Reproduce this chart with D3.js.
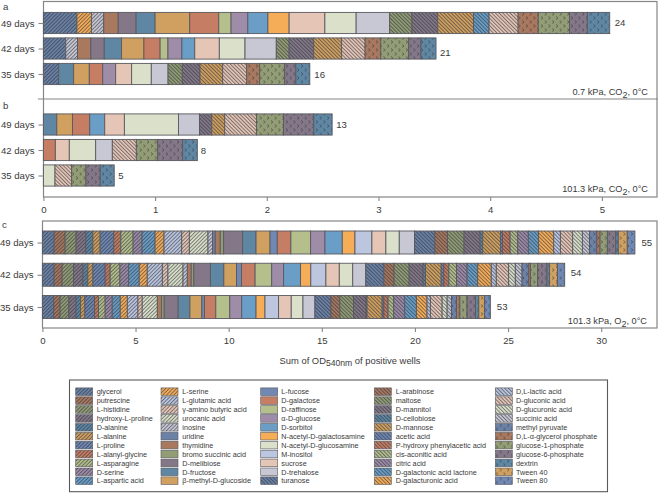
<!DOCTYPE html>
<html>
<head>
<meta charset="utf-8">
<script src="https://cdnjs.cloudflare.com/ajax/libs/d3/7.8.5/d3.min.js"></script>
<style>
html,body{margin:0;padding:0;background:#fff}
svg{display:block}
text{font-family:"Liberation Sans",Arial,sans-serif;fill:#3a3a3a}
</style>
</head>
<body>
<div id="chart"></div>
<script>
// Legend entries, column by column
const substrates = [
 "glycerol","putrescine","L-histidine","hydroxy-L-proline","D-alanine","L-alanine","L-proline","L-alanyl-glycine","L-asparagine","D-serine","L-aspartic acid",
 "L-serine","L-glutamic acid","γ-amino butyric acid","urocanic acid","inosine","uridine","thymidine","bromo succinic acid","D-melibiose","D-fructose","β-methyl-D-glucoside",
 "L-fucose","D-galactose","D-raffinose","α-D-glucose","D-sorbitol","N-acetyl-D-galactosamine","N-acetyl-D-glucosamine","M-inositol","sucrose","D-trehalose","turanose",
 "L-arabinose","maltose","D-mannitol","D-cellobiose","D-mannose","acetic acid","P-hydroxy phenylacetic acid","cis-aconitic acid","citric acid","D-galactonic acid lactone","D-galacturonic acid",
 "D,L-lactic acid","D-gluconic acid","D-glucuronic acid","succinic acid","methyl pyruvate","D,L-α-glycerol phosphate","glucose-1-phosphate","glucose-6-phosphate","dextrin","Tween 40","Tween 80"];
const c = {slate:"#6b82a6",brown:"#a8785f",olive:"#929c75",plum:"#847888",steel:"#5f87a3",tan:"#d0a060",blue:"#7088b2",red:"#c57d63",sage:"#b5bf8c",mauve:"#9e8ca8",sky:"#6a9ec6",orange:"#f6ad58",pale:"#dbe0ca",lav:"#bcc6de",pink:"#e5c6b6",grey:"#c8c8d5"};
const substrateColors = [
 c.slate,c.brown,c.olive,c.plum,c.steel,c.tan,c.blue,c.red,c.sage,c.mauve,c.sky,
 c.orange,c.lav,c.pink,c.pale,c.grey,c.slate,c.brown,c.olive,c.plum,c.steel,c.tan,
 c.blue,c.red,c.sage,c.mauve,c.sky,c.orange,c.pale,c.lav,c.pink,c.grey,c.slate,
 c.brown,c.olive,c.plum,c.steel,c.tan,c.blue,c.red,c.sage,c.mauve,c.sky,c.orange,
 c.lav,c.pink,c.pale,c.grey,c.slate,c.brown,c.olive,c.plum,c.steel,c.tan,c.blue];
const substrateFills = substrates.map((d,i)=> i<16?"fwd": i<32?"solid": i<48?"back":"dot");

// Stack order used in panel c (the full list)
const fullStack = substrates.slice();
fullStack.splice(28,3,"M-inositol","sucrose","N-acetyl-D-glucosamine");

const days = ["49 days","42 days","35 days"];

// Panel a: 0.7 kPa CO2
const a49Names = ["glycerol","L-serine","inosine","thymidine","D-melibiose","D-fructose","β-methyl-D-glucoside","D-galactose","D-raffinose","α-D-glucose","D-sorbitol","N-acetyl-D-galactosamine","sucrose","N-acetyl-D-glucosamine","D-trehalose","maltose","D-mannitol","D-mannose","D-galactonic acid lactone","D-gluconic acid","D,L-α-glycerol phosphate","glucose-1-phosphate","glucose-6-phosphate","dextrin"];
const a49Values = [.30,.13,.11,.13,.16,.17,.31,.26,.11,.15,.18,.19,.32,.28,.30,.20,.23,.32,.14,.26,.18,.28,.16,.20];
const a42Names = ["glycerol","inosine","thymidine","D-melibiose","D-fructose","β-methyl-D-glucoside","D-galactose","D-raffinose","α-D-glucose","D-sorbitol","sucrose","N-acetyl-D-glucosamine","D-trehalose","maltose","D-mannitol","D-mannose","D-gluconic acid","D,L-α-glycerol phosphate","glucose-1-phosphate","glucose-6-phosphate","dextrin"];
const a42Values = [.20,.105,.12,.12,.155,.20,.145,.07,.125,.115,.22,.23,.28,.115,.22,.25,.21,.14,.25,.11,.135];
const a35Names = ["glycerol","D-fructose","β-methyl-D-glucoside","D-galactose","α-D-glucose","sucrose","N-acetyl-D-glucosamine","D-trehalose","maltose","D-mannitol","D-mannose","D-gluconic acid","D,L-α-glycerol phosphate","glucose-1-phosphate","glucose-6-phosphate","dextrin"];
const a35Values = [.137,.134,.14,.12,.116,.143,.176,.15,.128,.158,.203,.215,.116,.224,.10,.125];

// Panel b: 101.3 kPa CO2
const b49Names = ["D-fructose","β-methyl-D-glucoside","D-galactose","D-sorbitol","sucrose","N-acetyl-D-glucosamine","D-trehalose","D-mannitol","D-mannose","D-gluconic acid","glucose-1-phosphate","glucose-6-phosphate","dextrin"];
const b49Values = [.12,.14,.155,.134,.176,.484,.188,.11,.116,.284,.242,.272,.164];
const b42Names = ["D-galactose","sucrose","N-acetyl-D-glucosamine","D-trehalose","D-gluconic acid","glucose-1-phosphate","glucose-6-phosphate","dextrin"];
const b42Values = [.107,.125,.236,.149,.215,.191,.224,.131];
const b35Names = ["N-acetyl-D-glucosamine","D-gluconic acid","glucose-1-phosphate","glucose-6-phosphate","dextrin"];
const b35Values = [.104,.149,.128,.128,.125];

// Panel c: 101.3 kPa O2
const c49Names = fullStack;
const c49Values = [.63,.59,.59,.52,.38,.39,.73,.38,.66,.48,.70,.48,.95,.41,1.00,.25,.14,.27,.18,1.02,.72,.75,.39,.73,1.06,.77,.93,.68,.91,.75,.72,.82,1.09,.68,.89,.86,.14,.95,.11,.41,.41,.57,.55,.81,.36,.66,.52,.38,.39,.18,.39,.45,.14,.48,.41];
const c42Names = fullStack.filter(d=>d!=="uridine");
const c42Values = [.63,.43,.61,.50,.27,.27,.66,.27,.52,.47,.57,.43,.81,.30,.81,.23,.21,.14,.89,.72,.68,.27,.73,.89,.64,.91,.55,.81,.72,.72,.70,.97,.55,.81,.75,.13,.84,.14,.27,.41,.57,.57,.73,.27,.66,.36,.36,.36,.09,.39,.50,.13,.43,.39];
const c35Names = fullStack.filter(d=>d!=="uridine"&&d!=="inosine");
const c35Values = [.61,.34,.47,.38,.25,.23,.52,.21,.36,.38,.43,.38,.57,.23,.81,.23,.14,.75,.63,.64,.14,.61,.75,.64,.77,.48,.73,.68,.63,.64,.86,.48,.73,.68,.05,.81,.09,.23,.30,.59,.63,.57,.18,.63,.27,.23,.27,.18,.39,.45,.18,.30,.32];

const xTicksAB = [0,1,2,3,4,5];
const xTicksC = [0,5,10,15,20,25,30];

const W=660,H=493;
const svg=d3.select("#chart").append("svg").attr("width",W).attr("height",H).attr("viewBox",[0,0,W,H]);
const defs=svg.append("defs");
const LINE="#59595f", FRAME="#868686", HATCH="#2c3038";

substrates.forEach((name,i)=>{
  const kind=substrateFills[i], col=substrateColors[i];
  if(kind==="solid") return;
  const p=defs.append("pattern").attr("id","p"+i).attr("patternUnits","userSpaceOnUse");
  if(kind==="dot"){
    p.attr("width",7.5).attr("height",8);
    p.append("rect").attr("width",7.5).attr("height",8).attr("fill",col);
    ["M1.2,0.6L2.6,2L1.2,3.4","M5,4.6L6.4,6L5,7.4"].forEach(dp=>
      p.append("path").attr("d",dp).attr("fill","none").attr("stroke",HATCH).attr("stroke-width",.9).attr("opacity",.8));
  } else {
    p.attr("width",2.6).attr("height",2.6).attr("patternTransform",`rotate(${kind==="fwd"?45:-45})`);
    p.append("rect").attr("width",2.6).attr("height",2.6).attr("fill",col);
    p.append("rect").attr("x",0).attr("width",.95).attr("height",2.6).attr("fill",HATCH).attr("opacity",.6);
  }
});
const fillOf=name=>{
  const i=substrates.indexOf(name);
  return substrateFills[i]==="solid"?substrateColors[i]:`url(#p${i})`;
};

const xAB=d3.scaleLinear().domain([0,5]).range([43.4,601.9]);
const xC=d3.scaleLinear().domain([0,30]).range([42.4,601.2]);

function bars(g,x,y,h,dayLabel,names,values,count,labelDx,labelDy){
  const ends=Array.from(d3.cumsum(values));
  const segs=names.map((n,i)=>({n,x0:i?ends[i-1]:0,x1:ends[i]}));
  const b=g.append("g");
  b.selectAll("rect").data(segs).join("rect")
    .attr("x",d=>x(d.x0)).attr("width",d=>x(d.x1)-x(d.x0))
    .attr("y",y(dayLabel)-h/2).attr("height",h)
    .attr("fill",d=>fillOf(d.n)).attr("stroke",LINE).attr("stroke-width",.9);
  g.append("text").attr("x",x(ends[ends.length-1])+labelDx).attr("y",y(dayLabel)+labelDy)
    .attr("font-size",9.6).text(count);
}
function styleAxis(a){
  a.selectAll("path,line").attr("stroke",FRAME).attr("stroke-width",1.1);
  a.selectAll("text").attr("font-size",9.6).attr("fill","#3a3a3a").style("font-family",'"Liberation Sans",Arial,sans-serif');
}
function yAxis(y,x0){
  const a=svg.append("g").attr("transform",`translate(${x0},0)`)
    .call(d3.axisLeft(y).tickSize(5).tickPadding(4));
  a.select(".domain").remove();
  styleAxis(a);
}
function xAxis(x,vals,yPos){
  const a=svg.append("g").attr("transform",`translate(0,${yPos})`)
    .call(d3.axisBottom(x).tickValues(vals).tickFormat(d3.format("d")).tickSize(4).tickPadding(5));
  a.select(".domain").remove();
  styleAxis(a);
}
function condLabel(xr,yb,before,sub,after){
  const t=svg.append("text").attr("x",xr).attr("y",yb).attr("text-anchor","end").attr("font-size",9.2);
  t.append("tspan").text(before);
  t.append("tspan").attr("dy",2.5).attr("font-size",9).text(sub);
  t.append("tspan").attr("dy",-2.5).text(after);
}

// Frames
svg.append("rect").attr("x",43.5).attr("y",1.5).attr("width",613.5).attr("height",195.5).attr("fill","none").attr("stroke",FRAME).attr("stroke-width",1.2);
svg.append("line").attr("x1",38).attr("x2",658).attr("y1",99).attr("y2",99).attr("stroke",FRAME).attr("stroke-width",1.2);
svg.append("rect").attr("x",42.5).attr("y",221).attr("width",614.5).attr("height",107).attr("fill","none").attr("stroke",FRAME).attr("stroke-width",1.2);

const yA=d3.scalePoint().domain(days).range([23,74]);
const yB=d3.scalePoint().domain(days).range([124.5,175.5]);
const yC=d3.scalePoint().domain(days).range([242.5,307]);

const gA=svg.append("g"),gB=svg.append("g"),gC=svg.append("g");
bars(gA,xAB,yA,21.2,days[0],a49Names,a49Values,"24",5,2.5);
bars(gA,xAB,yA,21.2,days[1],a42Names,a42Values,"21",4,7);
bars(gA,xAB,yA,21.2,days[2],a35Names,a35Values,"16",4.5,3.5);
bars(gB,xAB,yB,21.2,days[0],b49Names,b49Values,"13",4,3.5);
bars(gB,xAB,yB,21.2,days[1],b42Names,b42Values,"8",3.5,3.5);
bars(gB,xAB,yB,21.2,days[2],b35Names,b35Values,"5",4,3.5);
bars(gC,xC,yC,23,days[0],c49Names,c49Values,"55",6.5,3.5);
bars(gC,xC,yC,23,days[1],c42Names,c42Values,"54",6,1);
bars(gC,xC,yC,23,days[2],c35Names,c35Values,"53",6.5,3);

yAxis(yA,43.5); yAxis(yB,43.5); yAxis(yC,42.5);
xAxis(xAB,xTicksAB,197); xAxis(xC,xTicksC,328);

[["a",3,9.5],["b",3,109],["c",2,228]].forEach(([s,x,y])=>svg.append("text").attr("x",x).attr("y",y).attr("font-size",9.6).text(s));
condLabel(648,95,"0.7 kPa, CO","2",", 0°C");
condLabel(648,192,"101.3 kPa, CO","2",", 0°C");
condLabel(647,324,"101.3 kPa, O","2",", 0°C");

const title=svg.append("text").attr("x",350).attr("y",363.5).attr("text-anchor","middle").attr("font-size",9.4);
title.append("tspan").text("Sum of OD");
title.append("tspan").attr("dy",2.5).attr("font-size",8.6).text("540nm");
title.append("tspan").attr("dy",-2.5).text(" of positive wells");

// Legend
svg.append("rect").attr("x",69.5).attr("y",380).attr("width",538).attr("height",111.7).attr("fill","none").attr("stroke","#5a5a5a").attr("stroke-width",1.1);
const swatchX=[75.7,161,260.7,374.3,495.3];
const textX=[96.7,182.3,281.3,395.7,516];
const rowY=d3.scalePoint().domain(d3.range(11)).range([391.7,480.7]);
const leg=svg.append("g").selectAll("g").data(substrates).join("g")
  .attr("transform",(d,i)=>`translate(0,${rowY(i%11)})`);
leg.append("rect").attr("x",(d,i)=>swatchX[Math.floor(i/11)]).attr("y",-3.8).attr("width",17).attr("height",7.6)
  .attr("fill",fillOf).attr("stroke",LINE).attr("stroke-width",.6);
leg.append("text").attr("x",(d,i)=>textX[Math.floor(i/11)]).attr("y",2.7).attr("font-size",7.25).text(d=>d);
</script>
</body>
</html>
